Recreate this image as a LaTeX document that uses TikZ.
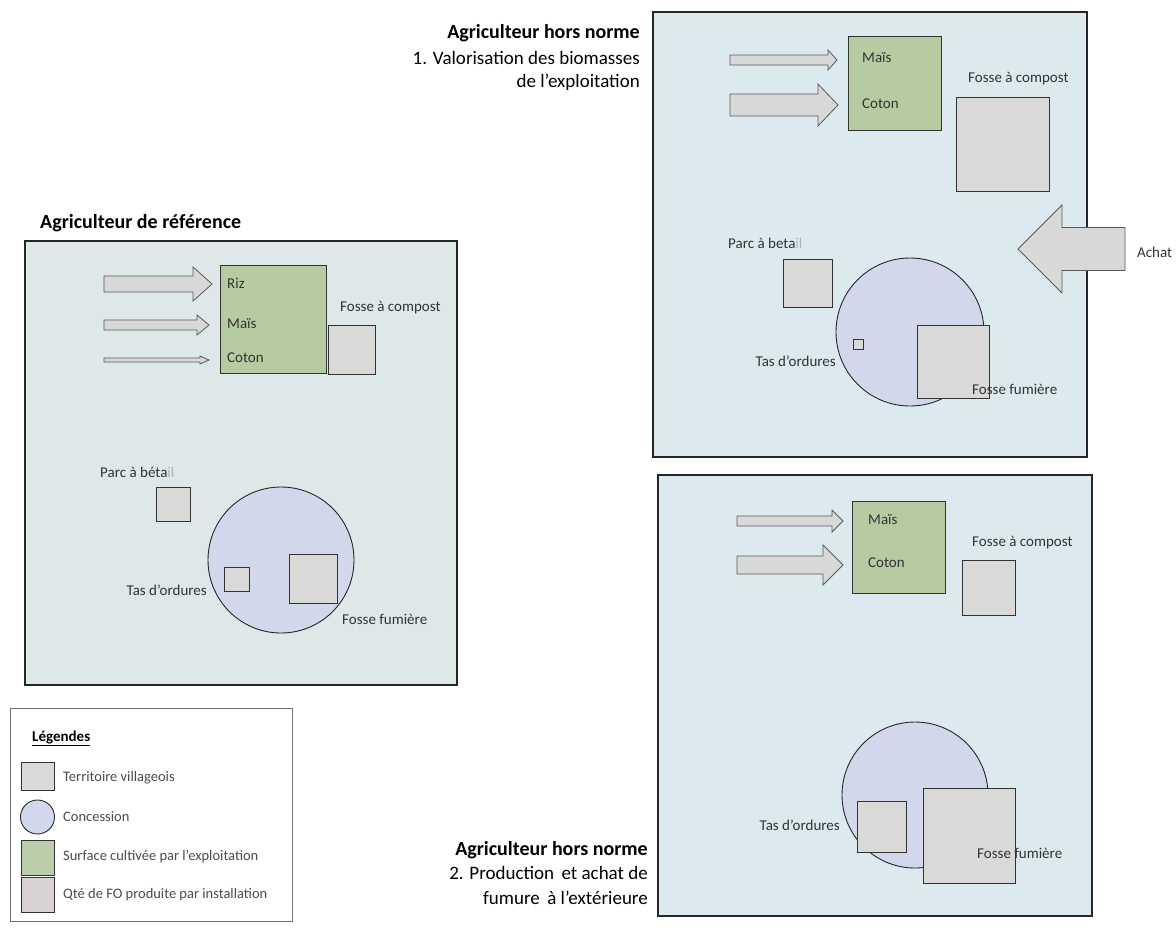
\documentclass[tikz,border=0pt]{standalone}
\usepackage{fontspec}
\setmainfont{Carlito}
\definecolor{fieldA}{HTML}{DEE8E9}
\definecolor{fieldB}{HTML}{DCEAEF}
\definecolor{cropgreen}{HTML}{B7CBA3}
\definecolor{pitgray}{HTML}{D9D9D7}
\definecolor{yardblue}{HTML}{D3D7EC}
\definecolor{flowgray}{HTML}{D8D8D8}
\definecolor{pitrose}{HTML}{D9D2D2}
% block arrow: tail x, tip x, centre y, shaft half-height, head half-height, head base x
\newcommand{\flowarrow}[6]{%
  \draw[flow] (#1,#3-#4) -- (#6,#3-#4) -- (#6,#3-#5) -- (#2,#3) -- (#6,#3+#5)
    -- (#6,#3+#4) -- (#1,#3+#4) -- cycle;}
\begin{document}
\begin{tikzpicture}[x=1pt,y=-1pt,
  panelA/.style={draw=black!85, line width=1.1pt, fill=fieldA},
  panelB/.style={draw=black!85, line width=1.1pt, fill=fieldB},
  crop/.style={draw=black!80, line width=0.9pt, fill=cropgreen},
  pit/.style={draw=black!80, line width=0.9pt, fill=pitgray},
  yard/.style={draw=black!85, line width=0.9pt, fill=yardblue},
  flow/.style={draw=black!65, line width=0.8pt, fill=flowgray},
  lbl/.style={font=\fontsize{15}{17}\selectfont, text=black!80, inner sep=0pt},
  heading/.style={font=\fontsize{20}{24}\selectfont\bfseries, inner sep=0pt},
  subhead/.style={font=\fontsize{19}{23}\selectfont, inner sep=0pt},
  keytext/.style={font=\fontsize{14.5}{17}\selectfont, text=black!70, inner sep=0pt, anchor=west},
  faint/.style={text=black!35}
]
\useasboundingbox (0,0) rectangle (1176,930);
\fill[white] (0,0) rectangle (1176,930);

% ---------------- reference farmer ----------------
\node[heading, anchor=west] (tref) at (40,223) {Agriculteur de référence};
\draw[panelA] (25,241) rectangle (457,685);
\flowarrow{104}{212}{284}{8}{17}{193}
\flowarrow{104}{209}{325}{5}{10}{197}
\flowarrow{104}{209}{360}{2}{4}{200}
\draw[crop] (220,265) rectangle (326,373);
\node[lbl, anchor=west] (rriz) at (227,283) {Riz};
\node[lbl, anchor=west] (rmais) at (227,324) {Maïs};
\node[lbl, anchor=west] (rcoton) at (227,358) {Coton};
\draw[pit] (328,325) rectangle (375,374);
\node[lbl, anchor=west] (rcomp) at (340,308) {Fosse à compost};
\draw[pit] (156,487) rectangle (190,521);
\node[lbl, anchor=west] (rparc) at (100,472) {Parc à béta{\color{black!30}il}};
\draw[yard] (281,560) circle[radius=73pt];
\draw[pit] (224,567) rectangle (249,591);
\node[lbl, anchor=east] (rtas) at (207,590) {Tas d’ordures};
\draw[pit] (289,554) rectangle (337,603);
\node[lbl, anchor=west] (rfum) at (342,619) {Fosse fumière};

% ---------------- legend ----------------
\draw[draw=black!55, line width=0.8pt, fill=white] (10,708) rectangle (292,921);
\node[font=\fontsize{15}{17}\selectfont\bfseries, inner sep=0pt, anchor=west] (leg) at (32,738) {\underline{Légendes}};
\draw[pit] (21,762) rectangle (54,790);
\draw[yard] (37.5,817) circle[radius=17pt];
\draw[crop, fill=cropgreen!85!pitgray] (21,840) rectangle (54,875);
\draw[pit, fill=pitrose] (21,877) rectangle (54,912);
\node[keytext] (k1) at (63,778) {Territoire villageois};
\node[keytext] (k2) at (63,817) {Concession};
\node[keytext] (k3) at (63,857) {Surface cultivée par l’exploitation};
\node[keytext] (k4) at (63,895) {Qté de FO produite par installation};

% ---------------- outstanding farmer 1 ----------------
\node[heading, anchor=east] (th1) at (640,33) {Agriculteur hors norme};
\node[subhead, anchor=east] (th1a) at (640,58) {1. Valorisation des biomasses};
\node[subhead, anchor=east] (th1b) at (640,82) {de l’exploitation};
\draw[panelB] (653,12) rectangle (1087,457);
\flowarrow{730}{837}{60}{5}{10}{828}
\flowarrow{730}{838}{105}{11}{21}{818}
\draw[crop] (848,36) rectangle (941,130);
\node[lbl, anchor=west] (amais) at (862,58) {Maïs};
\node[lbl, anchor=west] (acoton) at (862,104) {Coton};
\node[lbl, anchor=west] (acomp) at (968,79) {Fosse à compost};
\draw[pit] (956,97) rectangle (1049,191);
\flowarrow{1125}{1018}{249}{21.5}{44}{1062}
\node[lbl, anchor=west] (achat) at (1137,252) {Achat};
\node[lbl, anchor=west] (aparc) at (728,243) {Parc à beta{\color{black!30}il}};
\draw[pit] (783,259) rectangle (832,307);
\draw[yard] (910,332) circle[radius=74pt];
\draw[pit] (853,339) rectangle (863,349);
\node[lbl, anchor=east] (atas) at (836,361) {Tas d’ordures};
\draw[pit] (917,325) rectangle (989,398);
\node[lbl, anchor=west] (afum) at (972,389) {Fosse fumière};

% ---------------- outstanding farmer 2 ----------------
\node[heading, anchor=east] (th2) at (648,850) {Agriculteur hors norme};
\node[subhead, anchor=east] (th2a) at (648,873) {2. Production\, et achat de};
\node[subhead, anchor=east] (th2b) at (648,898) {fumure\, à l’extérieure};
\draw[panelB] (658,475) rectangle (1092,916);
\flowarrow{737}{843}{521}{5}{11}{832}
\flowarrow{737}{843}{565}{9}{20}{823}
\draw[crop] (852,501) rectangle (945,593);
\node[lbl, anchor=west] (bmais) at (868,520) {Maïs};
\node[lbl, anchor=west] (bcoton) at (868,563) {Coton};
\node[lbl, anchor=west] (bcomp) at (972,543) {Fosse à compost};
\draw[pit] (962,560) rectangle (1015,615);
\draw[yard] (915,795) circle[radius=73pt];
\draw[pit] (857,801) rectangle (906,852);
\node[lbl, anchor=east] (btas) at (840,825) {Tas d’ordures};
\draw[pit] (923,788) rectangle (1015,883);
\node[lbl, anchor=west] (bfum) at (977,853) {Fosse fumière};
\end{tikzpicture}
\end{document}
